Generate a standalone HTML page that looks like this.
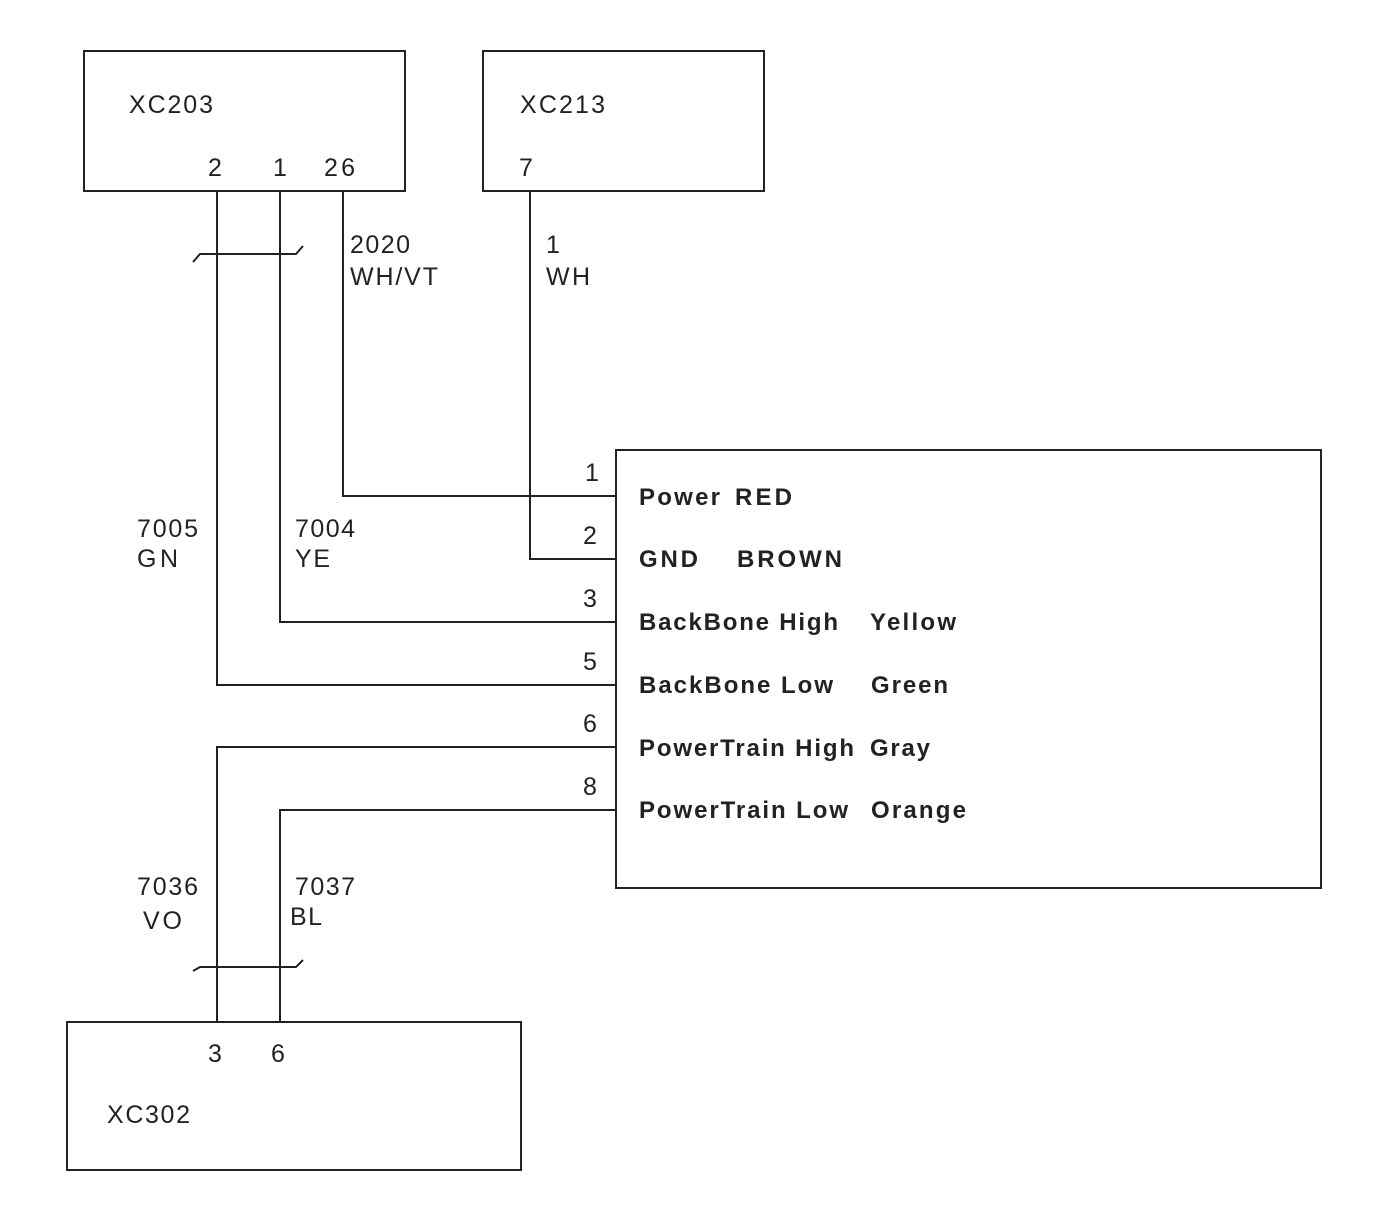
<!DOCTYPE html>
<html><head><style>body{margin:0;background:#fff}svg{display:block}text{font-family:"Liberation Sans",Arial,sans-serif;fill:#222}</style></head>
<body>
<svg width="1382" height="1220" viewBox="0 0 1382 1220">
<g fill="none" stroke="#222" stroke-width="2">
<rect x="84" y="51" width="321" height="140"/>
<rect x="483" y="51" width="281" height="140"/>
<rect x="616" y="450" width="705" height="438"/>
<rect x="67" y="1022" width="454" height="148"/>
<polyline points="217,191 217,685 616,685"/>
<polyline points="280,191 280,622 616,622"/>
<polyline points="343,191 343,496 616,496"/>
<polyline points="530,191 530,559 616,559"/>
<polyline points="217,1022 217,747 616,747"/>
<polyline points="280,1022 280,810 616,810"/>
<polyline points="193,262 200,254 296,254 303,246"/>
<polyline points="193,971 200,967 296,967 303,960"/>
</g>
<g font-size="25" lengthAdjust="spacingAndGlyphs">
<text x="129" y="113" textLength="84">XC203</text>
<text x="520" y="113" textLength="85">XC213</text>
<text x="107" y="1123" textLength="83">XC302</text>
<text x="208" y="176">2</text>
<text x="273" y="176">1</text>
<text x="324" y="176" textLength="31">26</text>
<text x="519" y="176">7</text>
<text x="208" y="1062">3</text>
<text x="271" y="1062">6</text>
<text x="350" y="253" textLength="60">2020</text>
<text x="350" y="285" textLength="88">WH/VT</text>
<text x="546" y="253">1</text>
<text x="546" y="285" textLength="44">WH</text>
<text x="137" y="537" textLength="61">7005</text>
<text x="137" y="567" textLength="41">GN</text>
<text x="295" y="537" textLength="60">7004</text>
<text x="295" y="567" textLength="35">YE</text>
<text x="137" y="895" textLength="61">7036</text>
<text x="143" y="929" textLength="39">VO</text>
<text x="295" y="895" textLength="60">7037</text>
<text x="290" y="925" textLength="32">BL</text>
<text x="585" y="481">1</text>
<text x="583" y="544">2</text>
<text x="583" y="607">3</text>
<text x="583" y="670">5</text>
<text x="583" y="732">6</text>
<text x="583" y="795">8</text>
</g>
<g font-size="24" font-weight="bold" lengthAdjust="spacingAndGlyphs">
<text x="639" y="505" textLength="81">Power</text><text x="735" y="505" textLength="57">RED</text>
<text x="639" y="567" textLength="59">GND</text><text x="737" y="567" textLength="105">BROWN</text>
<text x="639" y="630" textLength="199">BackBone High</text><text x="870" y="630" textLength="86">Yellow</text>
<text x="639" y="693" textLength="194">BackBone Low</text><text x="871" y="693" textLength="77">Green</text>
<text x="639" y="756" textLength="215">PowerTrain High</text><text x="870" y="756" textLength="60">Gray</text>
<text x="639" y="818" textLength="209">PowerTrain Low</text><text x="871" y="818" textLength="95">Orange</text>
</g>
</svg>
</body></html>
